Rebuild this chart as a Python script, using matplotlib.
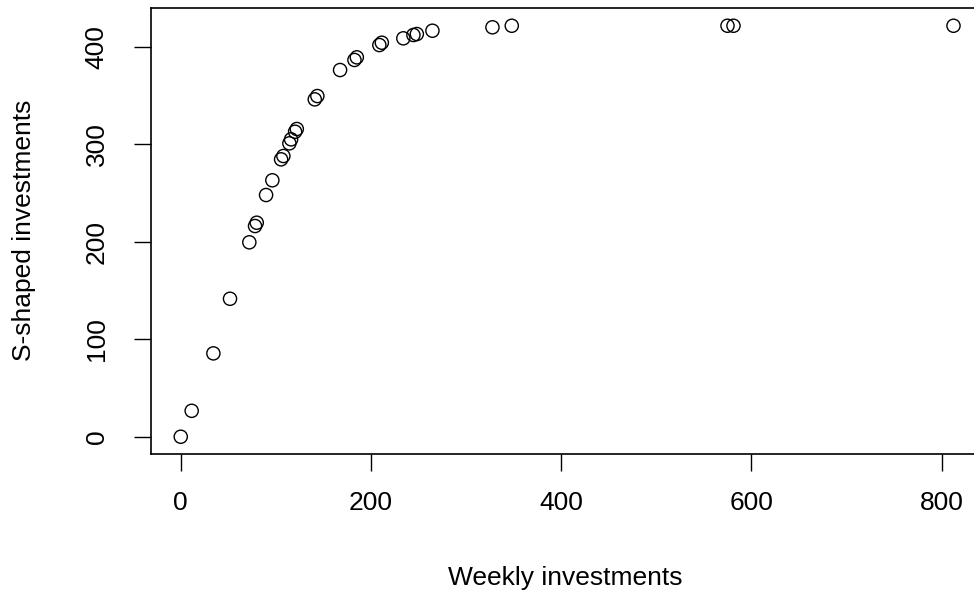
import matplotlib
matplotlib.use("Agg")
import matplotlib.pyplot as plt

plt.rcParams['font.family'] = ['Liberation Sans', 'DejaVu Sans']

# weekly spend vs. its S-shaped (saturating) transform
weekly = [0, 11.5, 34.3, 51.8, 72.1, 78.1, 79.9, 89.7, 96.3, 105.5, 107.9,
          114.2, 116.0, 120.2, 122.0, 140.9, 143.6, 167.5, 182.6, 185.1,
          208.8, 211.4, 234.0, 244.6, 248.2, 264.6, 327.7, 348.0, 574.8,
          581.1, 812.4]
s_shaped = [0, 26.6, 85.5, 141.5, 199.4, 216.1, 219.5, 247.9, 263.0, 284.5,
            287.9, 300.9, 305.0, 312.8, 315.6, 346.0, 349.4, 376.1, 386.4,
            389.1, 401.7, 404.1, 408.6, 412.0, 413.0, 416.4, 419.9, 421.5,
            421.5, 421.5, 421.5]
xticks = [0, 200, 400, 600, 800]
yticks = [0, 100, 200, 300, 400]

W, H = 974, 594
fig = plt.figure(figsize=(W / 100, H / 100), dpi=100)

# plot region in pixels: left 150.5, top 8, bottom 454; runs off the right edge
left, top, bottom = 150.5, 8.0, 454.0
xmin, xmax = -31.8, 842.0
px_per_x = (941.7 - 180.7) / 800
right = 180.7 + xmax * px_per_x
ax = fig.add_axes([left / W, (H - bottom) / H, (right - left) / W, (bottom - top) / H])

ax.scatter(weekly, s_shaped, s=90, facecolors='none', edgecolors='black', linewidths=1.0)

ax.set_xlim(xmin, xmax)
ax.set_ylim(-17.7, 439.7)
ax.set_xticks(xticks)
ax.set_yticks(yticks)
ax.set_xticklabels([str(t) for t in xticks])
ax.set_yticklabels([str(t) for t in yticks], rotation=90, va='center')
ax.tick_params(axis='both', length=12, width=1.0, labelsize=19, color='black')
ax.tick_params(axis='x', pad=15)
ax.tick_params(axis='y', pad=18)
for sp in ax.spines.values():
    sp.set_linewidth(1.2)

fig.text(565 / W, 1 - 578 / H, 'Weekly investments', ha='center', va='center', fontsize=19)
fig.text(24 / W, 1 - 230 / H, 'S-shaped investments', ha='center', va='center',
         rotation=90, fontsize=19)

fig.savefig('out.png', dpi=100)
